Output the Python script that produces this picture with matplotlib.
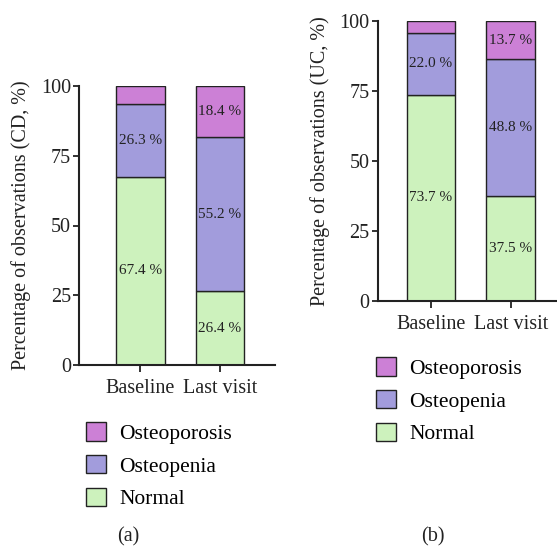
import matplotlib
matplotlib.use("Agg")
import matplotlib.pyplot as plt

plt.rcParams['font.family'] = ['Liberation Serif', 'DejaVu Serif']

# Bone density category shares (%) at each visit
visits = ["Baseline", "Last visit"]
categories = ["Normal", "Osteopenia", "Osteoporosis"]

cd_normal = [67.4, 26.4]
cd_osteopenia = [26.3, 55.2]
cd_osteoporosis = [6.3, 18.4]

uc_normal = [73.7, 37.5]
uc_osteopenia = [22.0, 48.8]
uc_osteoporosis = [4.3, 13.7]

# which segments carry a printed value (baseline osteoporosis is too thin)
show_label = {
    "Normal": [True, True],
    "Osteopenia": [True, True],
    "Osteoporosis": [False, True],
}

colors = {"Normal": "#cdf2bd", "Osteopenia": "#a29cdc", "Osteoporosis": "#cc80d6"}

W, H = 557, 548
fig = plt.figure(figsize=(W / 100, H / 100), dpi=100)


def stacked_panel(rect, xlim, series, ylabel, legend_xy, tag_xy, tag):
    ax = fig.add_axes(rect)
    x = list(range(len(visits)))
    bottom = [0.0] * len(visits)
    handles = []
    for name, vals in zip(categories, series):
        bars = ax.bar(x, vals, width=0.61, bottom=bottom, color=colors[name],
                      edgecolor="#222222", linewidth=1.0, label=name)
        handles.append(bars)
        for i, (b, v) in enumerate(zip(bottom, vals)):
            if show_label[name][i]:
                ax.text(x[i], b + v / 2, f"{v:.1f} %", ha="center", va="center",
                        fontsize=11, color="#222222")
        bottom = [b + v for b, v in zip(bottom, vals)]

    ax.set_ylim(0, 100)
    ax.set_xlim(*xlim)
    ax.set_yticks([0, 25, 50, 75, 100])
    ax.set_xticks(x)
    ax.set_xticklabels(visits)
    ax.tick_params(axis="both", labelsize=14.5, width=1.3, color="#222222",
                   labelcolor="#222222")
    ax.tick_params(axis="x", length=5, pad=5)
    ax.tick_params(axis="y", length=4, pad=2)
    for side in ("top", "right"):
        ax.spines[side].set_visible(False)
    for side in ("left", "bottom"):
        ax.spines[side].set_linewidth(1.5)
        ax.spines[side].set_color("#222222")
    ax.set_ylabel(ylabel, fontsize=14.5, color="#222222", labelpad=7)

    ax.legend(handles[::-1], categories[::-1], loc="upper left",
              bbox_to_anchor=(legend_xy[0] / W, 1 - legend_xy[1] / H),
              bbox_transform=fig.transFigure, frameon=False, fontsize=15.5,
              handlelength=0.95, handleheight=0.95, handletextpad=0.6,
              labelspacing=0.52, borderaxespad=0, borderpad=0)
    fig.text(tag_xy[0] / W, 1 - tag_xy[1] / H, tag, ha="center", va="center",
             fontsize=14.5, color="#222222")
    return ax


stacked_panel([79.3 / W, 1 - 365 / H, (275 - 79.3) / W, (365 - 86) / H],
              (-0.765, 1.69),
              [cd_normal, cd_osteopenia, cd_osteoporosis],
              "Percentage of observations (CD, %)",
              (86, 422), (128, 537), "(a)")

stacked_panel([377.7 / W, 1 - 301 / H, (556 - 377.7) / W, (301 - 21) / H],
              (-0.668, 1.566),
              [uc_normal, uc_osteopenia, uc_osteoporosis],
              "Percentage of observations (UC, %)",
              (376, 357), (433, 537), "(b)")

fig.savefig("out.png", dpi=100)
